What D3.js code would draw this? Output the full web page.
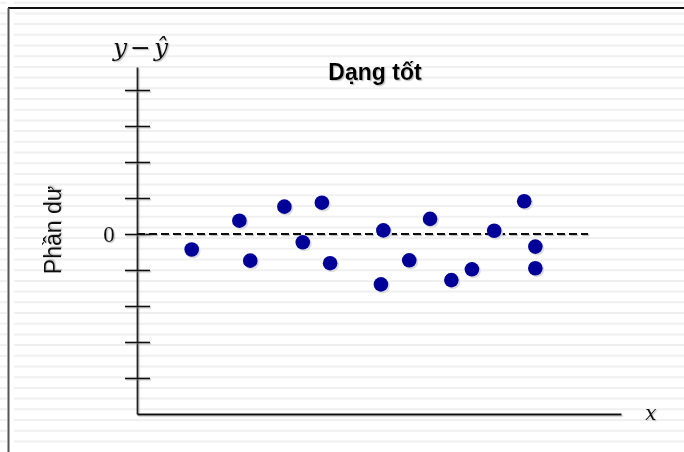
<!DOCTYPE html>
<html>
<head>
<meta charset="utf-8">
<script src="https://cdn.jsdelivr.net/npm/d3@7/dist/d3.min.js"></script>
<style>
  html, body { margin: 0; padding: 0; background: #ffffff; }
  svg { display: block; }
</style>
</head>
<body>
<script>
// ---- data ----
const xValues = [2.26, 4.23, 4.68, 6.09, 6.85, 7.64, 7.98, 10.08, 10.18, 11.25, 12.11, 12.99, 13.84, 14.76, 16.00, 16.46, 16.46];
const residuals = [-0.43, 0.37, -0.74, 0.76, -0.23, 0.87, -0.81, -1.40, 0.10, -0.73, 0.42, -1.28, -0.98, 0.09, 0.91, -0.35, -0.95];
const yTickValues = [-4, -3, -2, -1, 0, 1, 2, 3, 4];
const zeroLineEnd = 18.64;
const title = "Dạng tốt";
const yAxisTitle = "Phần dư";

const W = 684, H = 452;
const svg = d3.select("body").append("svg").attr("width", W).attr("height", H);

const defs = svg.append("defs");
// shadow for lines (user space, wide region)
const fl = defs.append("filter").attr("id", "shl").attr("filterUnits", "userSpaceOnUse")
  .attr("x", -1000).attr("y", -1000).attr("width", 3000).attr("height", 3000);
fl.append("feDropShadow").attr("dx", 1.2).attr("dy", 1.2).attr("stdDeviation", 0.7)
  .attr("flood-color", "#888").attr("flood-opacity", 0.5);
// shadow for texts (bounding box)
const ft = defs.append("filter").attr("id", "sht")
  .attr("x", "-20%").attr("y", "-20%").attr("width", "140%").attr("height", "140%");
ft.append("feDropShadow").attr("dx", 1.2).attr("dy", 1.2).attr("stdDeviation", 0.7)
  .attr("flood-color", "#888").attr("flood-opacity", 0.5);

// background ruled lines
const bg = svg.append("g");
d3.range(2.7, H, 10.7).forEach(yy => {
  bg.append("line").attr("x1", 0).attr("x2", 7).attr("y1", yy).attr("y2", yy)
    .attr("stroke", "#f0f0f0").attr("stroke-width", 2);
  bg.append("line").attr("x1", 14).attr("x2", W).attr("y1", yy).attr("y2", yy)
    .attr("stroke", "#f0f0f0").attr("stroke-width", 2);
});

// frame
svg.append("line").attr("x1", 8).attr("x2", W).attr("y1", 8).attr("y2", 8)
  .attr("stroke", "#111").attr("stroke-width", 2);
svg.append("line").attr("x1", 8.5).attr("x2", 8.5).attr("y1", 8).attr("y2", H)
  .attr("stroke", "#555").attr("stroke-width", 2);

// scales
const x = d3.scaleLinear().domain([0, 20]).range([137, 621]);
const y = d3.scaleLinear().domain([-5, 4.64]).range([414, 67]);

// y axis
const yAxisG = svg.append("g").attr("transform", `translate(${x(0)},0)`)
  .call(d3.axisLeft(y).tickValues(yTickValues).tickSize(12).tickSizeOuter(0).tickFormat(""));
yAxisG.select(".domain").attr("stroke", "#222").attr("stroke-width", 1.8).attr("filter", "url(#shl)");
yAxisG.selectAll(".tick line").attr("x1", 13).attr("stroke", "#111").attr("stroke-width", 1.6).attr("filter", "url(#shl)");

// x axis
const xAxisG = svg.append("g").attr("transform", `translate(0,${y(-5)})`)
  .call(d3.axisBottom(x).tickValues([]).tickSizeOuter(0));
xAxisG.select(".domain").attr("stroke", "#111").attr("stroke-width", 1.8).attr("filter", "url(#shl)");

// zero dashed line
svg.append("line")
  .attr("x1", x(0)).attr("x2", x(zeroLineEnd))
  .attr("y1", y(0)).attr("y2", y(0))
  .attr("stroke", "#111").attr("stroke-width", 1.8)
  .attr("stroke-dasharray", "8,4").attr("filter", "url(#shl)");

// points
const pts = svg.append("g");
pts.selectAll("circle.s").data(xValues).join("circle")
  .attr("class", "s")
  .attr("cx", (d) => x(d) + 1.5).attr("cy", (d, i) => y(residuals[i]) + 1.5)
  .attr("r", 7.4).attr("fill", "#dcdcdc");
pts.selectAll("circle.p").data(xValues).join("circle")
  .attr("class", "p")
  .attr("cx", (d) => x(d)).attr("cy", (d, i) => y(residuals[i]))
  .attr("r", 7.3).attr("fill", "#000099");

// texts
svg.append("text").attr("x", 109).attr("y", y(0) + 8)
  .attr("text-anchor", "middle").attr("font-family", "Liberation Serif, serif")
  .attr("font-size", 23).attr("fill", "#111").attr("filter", "url(#sht)").text("0");

const mathFont = "DejaVu Serif, serif";
svg.append("text").attr("x", 120).attr("y", 56).attr("text-anchor", "middle")
  .attr("font-family", mathFont).attr("font-style", "italic").attr("font-size", 25)
  .attr("fill", "#111").attr("filter", "url(#sht)").text("y");
svg.append("text").attr("x", 140.5).attr("y", 56).attr("text-anchor", "middle")
  .attr("font-family", mathFont).attr("font-size", 25)
  .attr("fill", "#111").attr("filter", "url(#sht)").text("−");
svg.append("text").attr("x", 161).attr("y", 56).attr("text-anchor", "middle")
  .attr("font-family", mathFont).attr("font-style", "italic").attr("font-size", 25)
  .attr("fill", "#111").attr("filter", "url(#sht)").text("ŷ");

svg.append("text").attr("x", 651).attr("y", 420)
  .attr("text-anchor", "middle").attr("font-family", mathFont)
  .attr("font-style", "italic").attr("font-size", 20).attr("fill", "#111").attr("filter", "url(#sht)").text("x");

svg.append("text").attr("x", 375).attr("y", 80)
  .attr("text-anchor", "middle").attr("font-family", "Liberation Sans, Arial, sans-serif")
  .attr("font-weight", "bold").attr("font-size", 23).attr("fill", "#000").attr("filter", "url(#sht)").text(title);

svg.append("text").attr("transform", "translate(61,230) rotate(-90)")
  .attr("text-anchor", "middle").attr("font-family", "Liberation Sans, Arial, sans-serif")
  .attr("font-size", 23).attr("fill", "#111").attr("filter", "url(#sht)").text(yAxisTitle);
</script>
</body>
</html>
